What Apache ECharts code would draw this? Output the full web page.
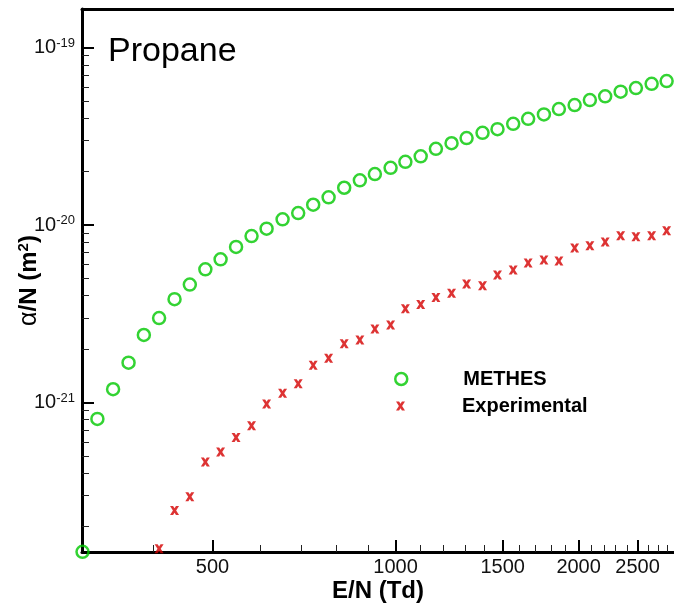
<!DOCTYPE html>
<html><head><meta charset="utf-8">
<script src="https://cdn.jsdelivr.net/npm/echarts@6/dist/echarts.min.js"></script>
<style>html,body{margin:0;padding:0;background:#fff}#c{width:674px;height:608px}</style>
</head><body><div id="c"></div>
<script>
// E/N (Td) values of the METHES points
const fieldEN = [305.6, 323.3, 343.1, 363.8, 385.5, 408.4, 433.0, 458.8, 486.6, 515.5,
  546.6, 579.6, 613.6, 651.9, 691.6, 732.0, 776.0, 823.2, 873.5, 924.6,
  981.3, 1037.8, 1099.8, 1165.0, 1236.1, 1308.5, 1390.0, 1471.0, 1561.0, 1652.0,
  1753.6, 1856.0, 1970.0, 2087.0, 2211.6, 2345.0, 2484.6, 2637.0, 2791.0];
// alpha/N (m^2), METHES
const methes = [1.44e-22, 8.07e-22, 1.187e-21, 1.676e-21, 2.40e-21, 2.99e-21, 3.82e-21, 4.62e-21, 5.63e-21, 6.41e-21,
  7.52e-21, 8.67e-21, 9.53e-21, 1.077e-20, 1.168e-20, 1.301e-20, 1.432e-20, 1.622e-20, 1.786e-20, 1.938e-20,
  2.10e-20, 2.27e-20, 2.44e-20, 2.69e-20, 2.89e-20, 3.09e-20, 3.31e-20, 3.47e-20, 3.72e-20, 3.97e-20,
  4.20e-20, 4.50e-20, 4.74e-20, 5.06e-20, 5.31e-20, 5.64e-20, 5.91e-20, 6.25e-20, 6.48e-20];
// E/N (Td) values of the experimental points
const expEN = [408.4, 433.0, 458.8, 486.6, 515.5, 546.6, 579.6, 613.6, 651.9, 691.6,
  732.0, 776.0, 823.2, 873.5, 924.6, 981.3, 1037.8, 1099.8, 1165.0, 1236.1,
  1308.5, 1390.0, 1471.0, 1561.0, 1652.0, 1753.6, 1856.0, 1970.0, 2087.0, 2211.6,
  2345.0, 2484.6, 2637.0, 2791.0];
// alpha/N (m^2), experimental
const experimental = [1.50e-22, 2.46e-22, 2.94e-22, 4.61e-22, 5.26e-22, 6.35e-22, 7.39e-22, 9.81e-22, 1.127e-21, 1.276e-21,
  1.621e-21, 1.775e-21, 2.14e-21, 2.25e-21, 2.59e-21, 2.73e-21, 3.37e-21, 3.56e-21, 3.91e-21, 4.12e-21,
  4.65e-21, 4.55e-21, 5.23e-21, 5.58e-21, 6.11e-21, 6.35e-21, 6.27e-21, 7.42e-21, 7.63e-21, 8.02e-21,
  8.69e-21, 8.58e-21, 8.70e-21, 9.29e-21];

const xMajorTicks = [500, 1000, 1500, 2000, 2500];
const xMinorTicks = [400, 600, 700, 800, 900, 1100, 1200, 1300, 1400, 1600, 1700, 1800, 1900,
  2100, 2200, 2300, 2400, 2600, 2700, 2800];
const yMajorTicks = [1e-21, 1e-20, 1e-19];
const yMinorTicks = [2e-22, 3e-22, 4e-22, 5e-22, 6e-22, 7e-22, 8e-22, 9e-22,
  2e-21, 3e-21, 4e-21, 5e-21, 6e-21, 7e-21, 8e-21, 9e-21,
  2e-20, 3e-20, 4e-20, 5e-20, 6e-20, 7e-20, 8e-20, 9e-20];
const xRange = [305, 2870];
const yRange = [1.436e-22, 1.65e-19];

const L = Math.log10;
const FONT = "'Liberation Sans', Arial, Helvetica, sans-serif";
const GREEN = '#00c800';
const RED = '#d40000';
const XPATH = 'path://M0,0H3.4L5,2.5L6.6,0H10L6.8,5L10,10H6.6L5,7.5L3.4,10H0L3.2,5Z';

const xMin = L(xRange[0]), xMax = L(xRange[1]);
const yMin = L(yRange[0]), yMax = L(yRange[1]);

const chart = echarts.init(document.getElementById('c'), null, {renderer: 'canvas'});
chart.setOption({
  animation: false,
  backgroundColor: '#fff',
  title: {
    text: 'Propane', left: 103, top: 30,
    textStyle: {fontFamily: FONT, fontSize: 34, fontWeight: 'normal', color: '#000'}
  },
  legend: [
    {
      data: [{name: 'METHES', icon: 'circle',
        itemStyle: {color: 'rgba(0,0,0,0)', borderColor: GREEN, borderWidth: 2.5}}],
      left: 394, top: 369, padding: 0, itemWidth: 12, itemHeight: 12, selectedMode: false,
      textStyle: {fontFamily: FONT, fontSize: 20, fontWeight: 'bold', color: '#000', padding: [0, 0, 0, 51]}
    },
    {
      data: [{name: 'Experimental', icon: XPATH, itemStyle: {color: RED, borderWidth: 0}}],
      left: 396, top: 396, padding: 0, itemWidth: 9, itemHeight: 9, selectedMode: false,
      textStyle: {fontFamily: FONT, fontSize: 20, fontWeight: 'bold', color: '#000', padding: [0, 0, 0, 52]}
    }
  ],
  grid: {left: 82, top: 9, right: 0, bottom: 56, containLabel: false, outerBoundsMode: 'none'},
  xAxis: [
    {
      type: 'value', min: xMin, max: xMax, position: 'bottom',
      name: 'E/N (Td)', nameLocation: 'middle', nameGap: 27, nameMoveOverlap: false,
      nameTextStyle: {fontFamily: FONT, fontSize: 24, fontWeight: 'bold', color: '#000'},
      axisLine: {show: true, onZero: false, lineStyle: {color: '#000', width: 3}},
      axisTick: {show: true, inside: true, length: 12, lineStyle: {color: '#000', width: 2},
        customValues: xMajorTicks.map(L)},
      axisLabel: {show: true, margin: 5, customValues: xMajorTicks.map(L),
        formatter: v => String(Math.round(Math.pow(10, v))),
        fontFamily: FONT, fontSize: 20, color: '#111'},
      splitLine: {show: false}
    },
    {
      type: 'value', min: xMin, max: xMax, position: 'bottom',
      axisLine: {show: false, onZero: false},
      axisTick: {show: true, inside: true, length: 7, lineStyle: {color: '#222', width: 1},
        customValues: xMinorTicks.map(L)},
      axisLabel: {show: false},
      splitLine: {show: false}
    },
    {
      type: 'value', min: xMin, max: xMax, position: 'top',
      axisLine: {show: true, onZero: false, lineStyle: {color: '#000', width: 3}},
      axisTick: {show: false}, axisLabel: {show: false}, splitLine: {show: false}
    }
  ],
  yAxis: [
    {
      type: 'value', min: yMin, max: yMax, position: 'left',
      name: '{a|α}{b|/N (m}{s|2}{b|)}', nameLocation: 'middle', nameGap: 40, nameRotate: 90,
      nameMoveOverlap: false,
      nameTextStyle: {
        rich: {
          a: {fontFamily: FONT, fontSize: 25, fontWeight: 'normal', color: '#000', lineHeight: 26},
          b: {fontFamily: FONT, fontSize: 24, fontWeight: 'bold', color: '#000', lineHeight: 26},
          s: {fontFamily: FONT, fontSize: 15, fontWeight: 'bold', color: '#000', lineHeight: 15, verticalAlign: 'top'}
        }
      },
      axisLine: {show: true, onZero: false, lineStyle: {color: '#000', width: 3}},
      axisTick: {show: true, inside: true, length: 12, lineStyle: {color: '#000', width: 2},
        customValues: yMajorTicks.map(L)},
      axisLabel: {show: true, margin: 7, customValues: yMajorTicks.map(L),
        formatter: v => '{b|10}{s|' + Math.round(v) + '}',
        rich: {
          b: {fontFamily: FONT, fontSize: 20, color: '#111', lineHeight: 22},
          s: {fontFamily: FONT, fontSize: 13, color: '#111', lineHeight: 13, verticalAlign: 'top'}
        }},
      splitLine: {show: false}
    },
    {
      type: 'value', min: yMin, max: yMax, position: 'left',
      axisLine: {show: false, onZero: false},
      axisTick: {show: true, inside: true, length: 7, lineStyle: {color: '#222', width: 1},
        customValues: yMinorTicks.map(L)},
      axisLabel: {show: false},
      splitLine: {show: false}
    }
  ],
  series: [
    {
      name: 'METHES', type: 'scatter', xAxisIndex: 0, yAxisIndex: 0,
      symbol: 'circle', symbolSize: 12, clip: false,
      itemStyle: {color: 'rgba(0,0,0,0)', borderColor: GREEN, borderWidth: 2.5},
      data: fieldEN.map((e, i) => [L(e), L(methes[i])]),
      z: 3
    },
    {
      name: 'Experimental', type: 'scatter', xAxisIndex: 0, yAxisIndex: 0,
      symbol: XPATH, symbolSize: [9, 9], clip: false,
      itemStyle: {color: RED},
      data: expEN.map((e, i) => [L(e), L(experimental[i])]),
      z: 3
    }
  ]
});
</script></body></html>
